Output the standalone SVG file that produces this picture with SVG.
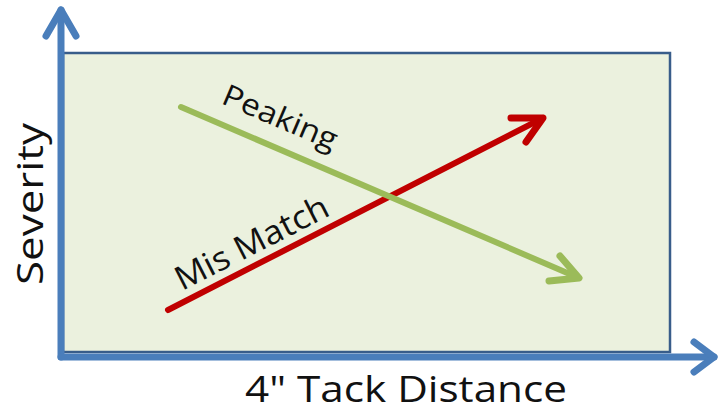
<svg xmlns="http://www.w3.org/2000/svg" width="719" height="413" viewBox="0 0 719 413">
<style>
.axis{fill:none;stroke:#4a7ebb;stroke-width:7;stroke-linecap:round;stroke-linejoin:round}
.lbl{font-family:"Open Sans","Liberation Sans",sans-serif;fill:#111}
</style>
<rect width="719" height="413" fill="#ffffff"/>
<g id="plot">
<rect x="63" y="53" width="607" height="299" fill="#ebf1de" stroke="#385d8a" stroke-width="2.5"/>
</g>
<g id="connectors">
<g id="y-axis">
<line class="axis" x1="61" y1="357" x2="61" y2="10"/>
<polyline class="axis" points="46,36 61,10 76,36"/>
</g>
<g id="x-axis">
<line class="axis" x1="61" y1="357" x2="714" y2="357"/>
<polyline class="axis" points="694,342 714,357 694,372"/>
</g>
<g id="mismatch-line">
<line x1="168" y1="310" x2="543" y2="118" stroke="#c00000" stroke-width="6" stroke-linecap="round"/>
<polyline points="511,118 543,118 526,142" fill="none" stroke="#c00000" stroke-width="7" stroke-linecap="round" stroke-linejoin="round"/>
</g>
<g id="peaking-line">
<line x1="181" y1="107" x2="579" y2="278" stroke="#9bbb59" stroke-width="6" stroke-linecap="round"/>
<polyline points="560,256 579,278 549,281" fill="none" stroke="#9bbb59" stroke-width="7" stroke-linecap="round" stroke-linejoin="round"/>
</g>
</g>
<g id="labels">
<text class="lbl" x="245" y="402" font-size="36" textLength="322" lengthAdjust="spacingAndGlyphs">4" Tack Distance</text>
<text class="lbl" transform="translate(43,285) rotate(-90)" font-size="36" textLength="162" lengthAdjust="spacingAndGlyphs">Severity</text>
<text class="lbl" transform="translate(220,103) rotate(23)" font-size="30" textLength="122" lengthAdjust="spacingAndGlyphs">Peaking</text>
<text class="lbl" transform="translate(182,291) rotate(-27)" font-size="33" textLength="168" lengthAdjust="spacingAndGlyphs">Mis Match</text>
</g>
</svg>
